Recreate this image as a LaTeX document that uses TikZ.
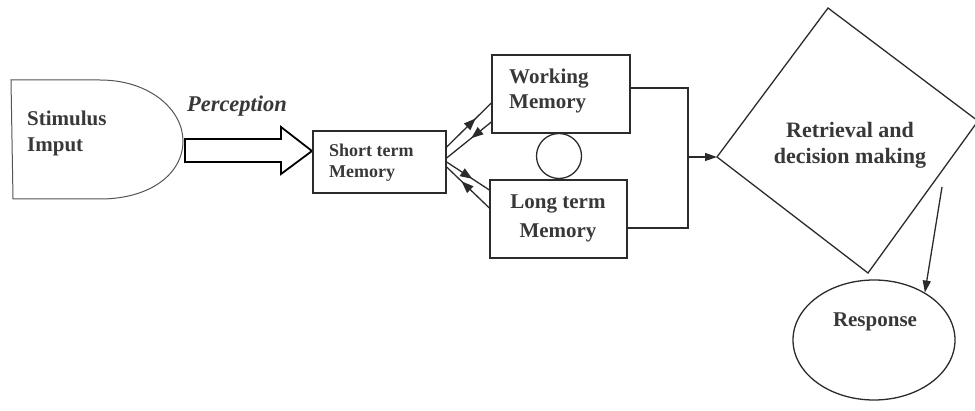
\documentclass[tikz,border=0pt]{standalone}
\usepackage{fontspec}
\setmainfont{Liberation Serif}
\usetikzlibrary{arrows.meta,shapes.geometric,decorations.markings}
\definecolor{ink}{HTML}{2B2B2B}
\definecolor{txt}{HTML}{383838}
\tikzset{
  line/.style={draw=ink, line width=1.3pt},
  box/.style={line, rectangle, inner sep=0pt},
  lbl/.style={text=txt, inner sep=0pt, font=\bfseries\fontsize{21}{26}\selectfont},
  midarrow/.style={postaction={decorate}, decoration={markings,
      mark=at position #1 with {\arrow{Triangle[length=12pt,width=9pt]}}}},
  tip/.style={-{Triangle[length=12pt,width=8pt]}}
}
\begin{document}
\begin{tikzpicture}[x=1pt,y=-1pt]
\useasboundingbox (0,0) rectangle (975,411);

% stimulus source shape
\draw[draw=ink!80, line width=1pt] (11,80) -- (100,80)
  .. controls (150,80) and (183,110) .. (183,141)
  .. controls (183,174) and (150,199) .. (100,199) -- (13,199) -- cycle;
\node[lbl, anchor=west, align=left] (stimtxt) at (27,133) {Stimulus\\Imput};

% perception label and hollow arrow
\node[text=txt, inner sep=0pt, font=\bfseries\itshape\fontsize{22.5}{26}\selectfont] (perc) at (237,106) {Perception};
\draw[draw=black, line width=1.8pt, line join=miter]
  (185,139) -- (281,139) -- (281,127) -- (312,151) -- (281,174) -- (281,162) -- (185,162) -- cycle;

% memory boxes
\node[box, minimum width=133pt, minimum height=62pt] (stm) at (379.5,162) {};
\node[text=txt, inner sep=0pt, anchor=west, align=left, font=\bfseries\fontsize{18}{21}\selectfont] (stmtxt) at (329,163) {Short term\\Memory};

\node[box, minimum width=138pt, minimum height=78pt] (wm) at (561,94) {};
\node[lbl, anchor=west, align=left, font=\bfseries\fontsize{21}{25}\selectfont] (wmtxt) at (509,91) {Working\\Memory};

\node[box, minimum width=137pt, minimum height=78pt] (ltm) at (558.5,219) {};
\node[lbl, align=center, font=\bfseries\fontsize{21}{29}\selectfont] (ltmtxt) at (558,218) {Long term\\Memory};

\node[line, circle, minimum size=45pt, inner sep=0pt] (link) at (559,156) {};

% exchanges between short-term and the two stores
\draw[line, midarrow=0.65] ([yshift=15pt]stm.east) -- ([yshift=-9pt]wm.west);
\draw[line, midarrow=0.45] ([yshift=-28pt]wm.west) -- ([yshift=4pt]stm.east);
\draw[line, midarrow=0.6] ([yshift=0pt]stm.east) -- ([yshift=29pt]ltm.west);
\draw[line, midarrow=0.65] ([yshift=11pt]ltm.west) -- ([yshift=-5pt]stm.east);

% decision diamond
\coordinate (dt) at (828,8);
\coordinate (dr) at (978,121);
\coordinate (db) at (868,273);
\coordinate (dl) at (717,157);
\draw[line, line join=miter] (dt) -- (dr) -- (db) -- (dl) -- cycle;
\node[lbl, align=center, font=\bfseries\fontsize{22}{26}\selectfont] (dtxt) at (850,145) {Retrieval and\\decision making};

% merge of the stores into the decision step
\coordinate (jt) at (688,88);
\coordinate (jb) at (688,228);
\coordinate (jm) at (688,157);
\draw[line] ([yshift=6pt]wm.east) -- (jt) -- (jb) -- ([yshift=-9pt]ltm.east);
\draw[line, tip] (jm) -- (dl);

% response
\node[line, ellipse, minimum width=162pt, minimum height=120pt, inner sep=0pt] (resp) at (874,340) {};
\node[lbl, font=\bfseries\fontsize{21}{26}\selectfont] (resptxt) at (875,322) {Response};
\coordinate (dout) at (942,187);
\draw[line, tip] (dout) -- (resp.43);
\end{tikzpicture}
\end{document}
